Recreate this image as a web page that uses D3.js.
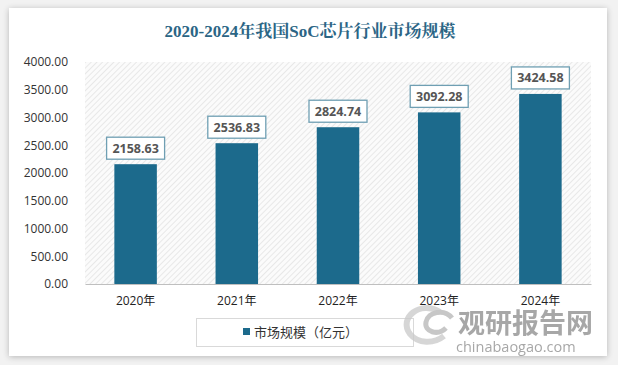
<!DOCTYPE html>
<html>
<head>
<meta charset="utf-8">
<script src="https://cdn.jsdelivr.net/npm/d3@7/dist/d3.min.js"></script>
<style>
  body { margin: 0; background: #f2f2f2; }
  text { font-family: "Open Sans", "Noto Sans CJK SC", sans-serif; }
  .title { font-family: "Liberation Serif", "Noto Serif CJK SC", "Noto Sans CJK SC", serif; font-weight: bold; }
</style>
</head>
<body>
<svg width="618" height="365"></svg>
<script>
const years = ['2020年', '2021年', '2022年', '2023年', '2024年'];
const marketSize = [2158.63, 2536.83, 2824.74, 3092.28, 3424.58];
const yTicks = [0, 500, 1000, 1500, 2000, 2500, 3000, 3500, 4000];
const seriesName = '市场规模（亿元）';

const svg = d3.select('svg');
const width = +svg.attr('width');
const height = +svg.attr('height');

const defs = svg.append('defs');
const shadow = defs.append('filter').attr('id', 'shadow')
    .attr('x', '-5%').attr('y', '-5%').attr('width', '110%').attr('height', '110%');
shadow.append('feGaussianBlur').attr('in', 'SourceAlpha').attr('stdDeviation', 3);
shadow.append('feOffset').attr('dx', 0).attr('dy', 1).attr('result', 'b');
shadow.append('feComponentTransfer').append('feFuncA').attr('type', 'linear').attr('slope', 0.25);
const merge = shadow.append('feMerge');
merge.append('feMergeNode');
merge.append('feMergeNode').attr('in', 'SourceGraphic');

const hatch = defs.append('pattern').attr('id', 'hatch')
    .attr('patternUnits', 'userSpaceOnUse').attr('width', 4).attr('height', 4)
    .attr('patternTransform', 'rotate(45)');
hatch.append('rect').attr('width', 4).attr('height', 4).attr('fill', '#fbfbfb');
hatch.append('line').attr('x1', 0).attr('y1', 0).attr('x2', 0).attr('y2', 4)
    .attr('stroke', '#dcdcdc').attr('stroke-width', 1.2);

svg.append('rect').attr('width', width).attr('height', height).attr('fill', '#f2f2f2');
svg.append('rect').attr('x', 9).attr('y', 8).attr('width', 598).attr('height', 348)
    .attr('fill', '#fff').attr('filter', 'url(#shadow)');

svg.append('text').attr('class', 'title')
    .attr('x', 310).attr('y', 37).attr('text-anchor', 'middle')
    .attr('font-size', 17).attr('fill', '#2b6585')
    .text('2020-2024年我国SoC芯片行业市场规模');

const margin = { top: 62, right: 27, bottom: 81, left: 85 };
const innerWidth = width - margin.left - margin.right;
const innerHeight = height - margin.top - margin.bottom;

const xScale = d3.scaleBand().domain(years).range([0, innerWidth]).paddingInner(0.58).paddingOuter(0.29);
const yScale = d3.scaleLinear().domain([0, 4000]).range([innerHeight, 0]);

const g = svg.append('g').attr('transform', `translate(${margin.left}, ${margin.top})`);

g.append('rect').attr('width', innerWidth).attr('height', innerHeight).attr('fill', 'url(#hatch)');

const yAxisG = g.append('g')
    .call(d3.axisLeft(yScale).tickValues(yTicks).tickFormat(d3.format('.2f')).tickSize(0).tickPadding(17));
yAxisG.select('.domain').remove();
yAxisG.selectAll('text').attr('font-size', 12).attr('fill', '#333');

const xAxisG = g.append('g').attr('transform', `translate(0, ${innerHeight})`)
    .call(d3.axisBottom(xScale).tickSize(0).tickPadding(12));
xAxisG.select('.domain').attr('stroke', '#bfbfbf');
xAxisG.selectAll('text').attr('font-size', 12).attr('fill', '#222');

g.selectAll('rect.bar').data(marketSize).enter().append('rect')
    .attr('class', 'bar')
    .attr('x', (d, i) => xScale(years[i]))
    .attr('y', d => yScale(d))
    .attr('width', xScale.bandwidth())
    .attr('height', d => innerHeight - yScale(d))
    .attr('fill', '#1c6a8c');

const labels = g.selectAll('g.label').data(marketSize).enter().append('g')
    .attr('class', 'label')
    .attr('transform', (d, i) => `translate(${xScale(years[i]) + xScale.bandwidth() / 2}, ${yScale(d) - 16})`);
labels.append('rect').attr('x', -29).attr('y', -11).attr('width', 58).attr('height', 22)
    .attr('fill', '#fff').attr('stroke', '#6f9fb3').attr('stroke-width', 1.3);
labels.append('text').attr('text-anchor', 'middle').attr('dy', '0.36em')
    .attr('font-size', 12.5).attr('font-weight', 'bold').attr('fill', '#555')
    .text(d => d.toFixed(2));

const legend = svg.append('g');
legend.append('rect').attr('x', 196.5).attr('y', 318.5).attr('width', 217).attr('height', 28)
    .attr('fill', '#fff').attr('stroke', '#d9d9d9');
legend.append('rect').attr('x', 243).attr('y', 328).attr('width', 7).attr('height', 7).attr('fill', '#1c6a8c');
legend.append('text').attr('x', 254).attr('y', 337).attr('font-size', 13).attr('fill', '#333')
    .text(seriesName);

const wm = svg.append('g').attr('opacity', 0.75);
wm.append('path').attr('d', 'M440,312 C420,300 398,318 410,334 C418,344 434,344 444,336')
    .attr('fill', 'none').attr('stroke', '#c9c9c9').attr('stroke-width', 6);
wm.append('path').attr('d', 'M452,318 C444,308 428,312 426,322 C424,332 438,336 446,328')
    .attr('fill', 'none').attr('stroke', '#b5b5b5').attr('stroke-width', 5);
wm.append('text').attr('x', 458).attr('y', 333).attr('font-size', 27).attr('font-weight', 'bold')
    .attr('fill', '#8a8a8a').attr('font-family', 'Noto Sans CJK SC').text('观研报告网');
wm.append('text').attr('x', 456).attr('y', 352).attr('font-size', 14.5)
    .attr('fill', '#8a8a8a').text('chinabaogao.com');
</script>
</body>
</html>
